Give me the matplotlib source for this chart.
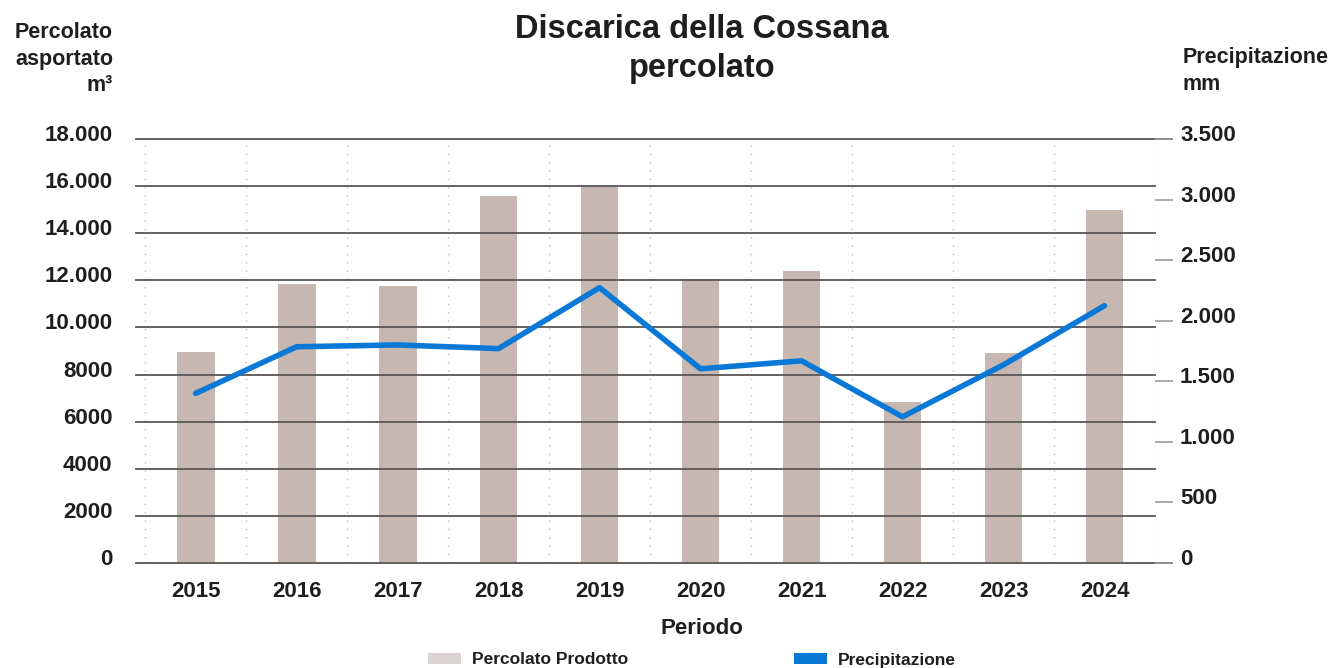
import matplotlib
matplotlib.use("Agg")
import matplotlib.pyplot as plt
from matplotlib.patches import Patch
from matplotlib.transforms import ScaledTranslation

plt.rcParams['font.family'] = ['Liberation Sans', 'DejaVu Sans']

years = ["2015", "2016", "2017", "2018", "2019", "2020", "2021", "2022", "2023", "2024"]
percolato_m3 = [8950, 11850, 11750, 15580, 16000, 12050, 12390, 6830, 8910, 14980]
precipitazione_mm = [1400, 1785, 1800, 1770, 2273, 1603, 1669, 1207, 1636, 2124]

left_ticks = [0, 2000, 4000, 6000, 8000, 10000, 12000, 14000, 16000, 18000]
left_labels = ["0", "2000", "4000", "6000", "8000", "10.000", "12.000", "14.000", "16.000", "18.000"]
right_ticks = [0, 500, 1000, 1500, 2000, 2500, 3000, 3500]
right_labels = ["0", "500", "1.000", "1.500", "2.000", "2.500", "3.000", "3.500"]

BAR_COLOR = "#c6b7b1"
LINE_COLOR = "#0a78d6"
GRID_COLOR = "#5a5555"
TEXT_COLOR = "#1e1e1e"

W, H = 1340, 668
fig = plt.figure(figsize=(W / 100, H / 100), dpi=100)
ax = fig.add_axes([136 / W, 1 - 563 / H, (1155 - 136) / W, (563 - 139) / H])

x = list(range(len(years)))
ax.bar(x, percolato_m3, width=0.375, color=BAR_COLOR, zorder=1)

ax.set_xlim(-0.59, 9.5)
ax.set_ylim(0, 18000)

# horizontal grid
for v in left_ticks:
    ext = 1.017 if v in (0, 18000) else 1.0
    ax.axhline(v, xmin=0, xmax=ext, color=GRID_COLOR, lw=1.3, zorder=2, clip_on=False)

# dotted separators between years
for i in range(len(years) + 1):
    ax.axvline(i - 0.5, color="#b9b9b9", lw=1.0, ls=(0, (1, 5)), zorder=0)

for s in ax.spines.values():
    s.set_visible(False)

ax.set_yticks(left_ticks)
ax.set_yticklabels(left_labels)
ax.tick_params(axis="y", length=0, pad=17, labelsize=16, labelcolor=TEXT_COLOR)
ax.set_xticks(x)
ax.set_xticklabels(years)
ax.tick_params(axis="x", length=0, pad=13, labelsize=16, labelcolor=TEXT_COLOR)
for lab in ax.get_yticklabels() + ax.get_xticklabels():
    lab.set_fontweight("bold")

up = ScaledTranslation(0, 6 / 100, fig.dpi_scale_trans)
for lab in ax.get_yticklabels():
    lab.set_transform(lab.get_transform() + up)

ax2 = ax.twinx()
ax2.set_ylim(0, 3500)
ax2.plot(x, precipitazione_mm, color=LINE_COLOR, lw=4.0, solid_joinstyle="round",
         solid_capstyle="round", zorder=5)
for s in ax2.spines.values():
    s.set_visible(False)
ax2.set_yticks(right_ticks)
ax2.set_yticklabels(right_labels)
ax2.tick_params(axis="y", length=13, width=1.2, color="#9a9a9a", pad=5,
                labelsize=16, labelcolor=TEXT_COLOR)
for lab in ax2.get_yticklabels():
    lab.set_fontweight("bold")
    lab.set_transform(lab.get_transform() + up)

# titles and axis captions
fig.text(702 / W, 1 - 30 / H, "Discarica della Cossana", ha="center", va="center",
         fontsize=23.5, fontweight="bold", color=TEXT_COLOR)
fig.text(702 / W, 1 - 68 / H, "percolato", ha="center", va="center",
         fontsize=23.5, fontweight="bold", color=TEXT_COLOR)

fig.text(113 / W, 1 - 59 / H, "Percolato\nasportato\nm³", ha="right", va="center",
         fontsize=15.5, fontweight="bold", color=TEXT_COLOR, linespacing=1.32,
         multialignment="right")
fig.text(1183 / W, 1 - 71 / H, "Precipitazione\nmm", ha="left", va="center",
         fontsize=15.5, fontweight="bold", color=TEXT_COLOR, linespacing=1.32)

fig.text(702 / W, 1 - 628 / H, "Periodo", ha="center", va="center",
         fontsize=16, fontweight="bold", color=TEXT_COLOR)

handles = [
    Patch(facecolor="#d9d3d1", edgecolor="none"),
    Patch(facecolor=LINE_COLOR, edgecolor="none"),
]
leg = fig.legend(handles, ["Percolato Prodotto", "Precipitazione"], ncol=2,
                 loc="center", bbox_to_anchor=(692 / W, 1 - 660 / H), frameon=False,
                 fontsize=12.5, handlelength=1.9, handleheight=0.6, handletextpad=0.65,
                 columnspacing=9.5, borderpad=0, borderaxespad=0)
for t in leg.get_texts():
    t.set_fontweight("bold")
    t.set_color(TEXT_COLOR)

fig.savefig("out.png", dpi=100, facecolor="white")
